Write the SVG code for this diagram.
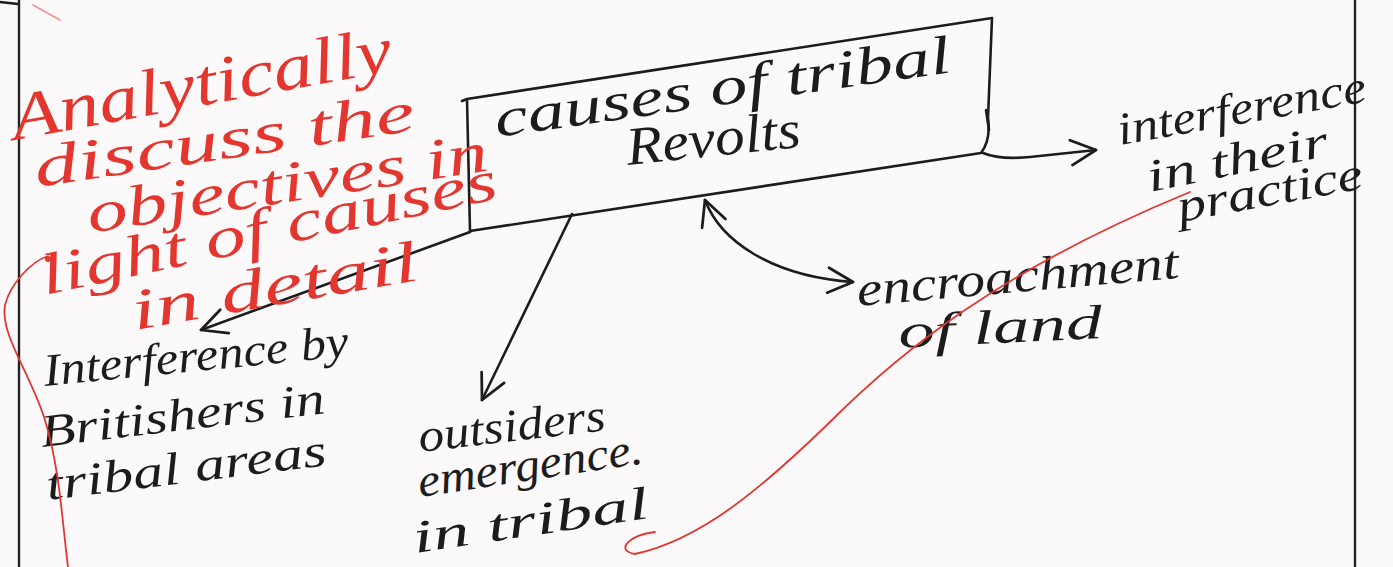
<svg xmlns="http://www.w3.org/2000/svg" width="1393" height="567" viewBox="0 0 1393 567">
<defs>
<style>
.hw{font-family:"Liberation Serif","DejaVu Serif",serif;font-style:italic;fill:#1c1c1c}
.red{font-family:"Liberation Serif","DejaVu Serif",serif;font-style:italic;fill:#e3362f}
.ink{fill:none;stroke:#1c1c1c;stroke-width:2.6;stroke-linecap:round;stroke-linejoin:round}
.rline{fill:none;stroke:#e3362f;stroke-width:1.8;stroke-linecap:round}
.margin{stroke:#222;stroke-width:2.4}
</style>
<marker id="ah" viewBox="0 0 12 12" refX="11" refY="6" markerWidth="30" markerHeight="30" markerUnits="userSpaceOnUse" orient="auto-start-reverse">
<path d="M1,1 L11,6 L1,11" fill="none" stroke="#1c1c1c" stroke-width="1.1" stroke-linecap="round" stroke-linejoin="round"/>
</marker>
</defs>
<rect width="1393" height="567" fill="#fcf9fb"/>
<line class="margin" x1="19" y1="0" x2="19" y2="567"/>
<line class="margin" x1="1355" y1="0" x2="1355" y2="567"/>
<path d="M0,2 L18,4" class="ink" stroke-width="1.5"/>

<g id="connectors">
<path class="ink" d="M983,153 Q1000,160 1030,157 L1096,150" marker-end="url(#ah)"/>
<path class="ink" d="M705,200 C720,240 770,276 853,282" marker-start="url(#ah)" marker-end="url(#ah)"/>
<path class="ink" d="M572,214 L482,400" marker-end="url(#ah)"/>
<path class="ink" d="M470,232 L201,330" marker-end="url(#ah)"/>
</g>

<g id="root">
<path class="ink" stroke-width="3" d="M462,101 L467,99 L992,18 L988,118 Q991,140 981,153 L470,231 L467,99"/>
<path class="ink" stroke-width="3" d="M986,110 L989,130"/>
<text class="hw" font-size="54" transform="translate(497,137) rotate(-8.1)" textLength="460" lengthAdjust="spacingAndGlyphs">causes of tribal</text>
<text class="hw" font-size="54" transform="translate(628,165) rotate(-6)" textLength="175" lengthAdjust="spacingAndGlyphs">Revolts</text>
</g>

<g id="n-practice">
<text class="hw" font-size="46" transform="translate(1120,145) rotate(-10)" textLength="252" lengthAdjust="spacingAndGlyphs">interference</text>
<text class="hw" font-size="46" transform="translate(1150,192) rotate(-11.5)" textLength="184" lengthAdjust="spacingAndGlyphs">in their</text>
<text class="hw" font-size="46" transform="translate(1180,222) rotate(-10.4)" textLength="188" lengthAdjust="spacingAndGlyphs">practice</text>
</g>

<g id="n-land">
<text class="hw" font-size="48" transform="translate(858,306) rotate(-5)" textLength="323" lengthAdjust="spacingAndGlyphs">encroachment</text>
<text class="hw" font-size="48" transform="translate(899,348) rotate(-2.8)" textLength="204" lengthAdjust="spacingAndGlyphs">of land</text>
</g>

<g id="n-britishers">
<text class="hw" font-size="46" transform="translate(45,386) rotate(-5.6)" textLength="306" lengthAdjust="spacingAndGlyphs">Interference by</text>
<text class="hw" font-size="46" transform="translate(42,447) rotate(-6.8)" textLength="286" lengthAdjust="spacingAndGlyphs">Britishers in</text>
<text class="hw" font-size="46" transform="translate(48,500) rotate(-7.1)" textLength="282" lengthAdjust="spacingAndGlyphs">tribal areas</text>
</g>

<g id="n-outsiders">
<text class="hw" font-size="46" transform="translate(420,452) rotate(-6.7)" textLength="188" lengthAdjust="spacingAndGlyphs">outsiders</text>
<text class="hw" font-size="46" transform="translate(420,497) rotate(-8.6)" textLength="227" lengthAdjust="spacingAndGlyphs">emergence.</text>
<text class="hw" font-size="46" transform="translate(415,553) rotate(-8.5)" textLength="238" lengthAdjust="spacingAndGlyphs">in tribal</text>
</g>

<g id="annotation">
<text class="red" font-size="66" transform="translate(15,140) rotate(-10.4)" textLength="386" lengthAdjust="spacingAndGlyphs">Analytically</text>
<text class="red" font-size="58" transform="translate(37,187) rotate(-8.5)" textLength="384" lengthAdjust="spacingAndGlyphs">discuss the</text>
<text class="red" font-size="58" transform="translate(90,233) rotate(-8.9)" textLength="405" lengthAdjust="spacingAndGlyphs">objectives in</text>
<text class="red" font-size="58" transform="translate(45,295) rotate(-12)" textLength="465" lengthAdjust="spacingAndGlyphs">light of causes</text>
<text class="red" font-size="58" transform="translate(135,330) rotate(-10)" textLength="290" lengthAdjust="spacingAndGlyphs">in detail</text>
<path class="rline" d="M48,256 C30,262 10,285 5,305 C0,335 30,372 45,420 C60,470 62,520 68,567"/>
<circle cx="48" cy="259" r="3" fill="#e3362f"/>
<path class="rline" d="M655,532 C630,535 614,550 635,554 C700,540 760,490 830,422 C900,352 1000,270 1190,192"/>
<path class="rline" stroke-width="1" opacity="0.5" d="M33,5 L60,20"/>
</g>
</svg>
